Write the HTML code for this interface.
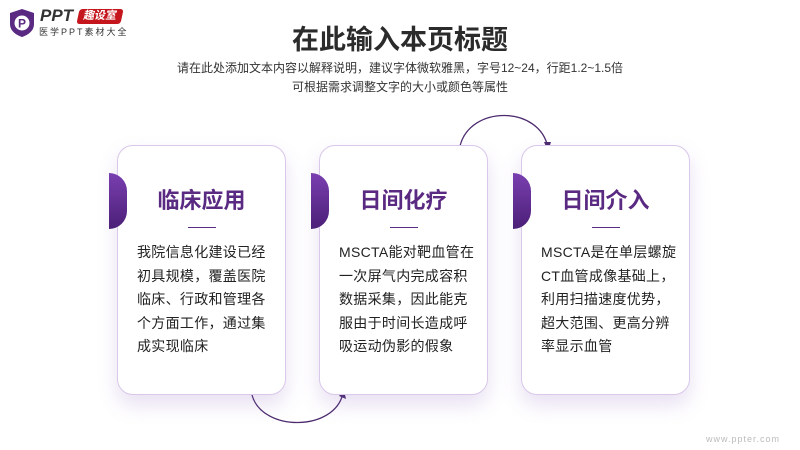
<!DOCTYPE html>
<html><head><meta charset="utf-8"><style>
body{margin:0;width:800px;height:450px;background:#fff;position:relative;overflow:hidden;font-family:"Liberation Sans","Noto Sans CJK SC",sans-serif;}
.abs{position:absolute}
.card{position:absolute;top:145px;width:169px;height:250px;background:#fff;border:1px solid #d9c8ea;border-radius:16px;box-shadow:0 10px 20px rgba(140,100,190,0.2);box-sizing:border-box}
.tab{position:absolute;left:-9px;top:27px;width:18px;height:56px;border-radius:0 28px 28px 0/0 28px 28px 0;background:linear-gradient(#7a3fb0,#4b1f78)}
.ct{position:absolute;top:37px;width:100%;text-align:center;font-size:22px;font-weight:bold;color:#5a2a82}
.ln{position:absolute;top:81px;left:70px;width:28px;height:1px;background:#5a2a82}
.bd{position:absolute;top:95px;left:19px;width:140px;font-size:14px;line-height:23.5px;color:#222;letter-spacing:0.3px}
</style></head><body>
<svg class="abs" style="left:8px;top:8px" width="28" height="30" viewBox="0 0 28 30"><path d="M14 1 L26 5 V16 C26 23 20 27 14 29 C8 27 2 23 2 16 V5 Z" fill="#5a2a82"/><circle cx="14" cy="15" r="7.5" fill="#fff"/><text x="14" y="19.5" font-size="12" font-weight="bold" text-anchor="middle" fill="#5a2a82" font-family="Liberation Sans">P</text></svg>
<div class="abs" style="left:40px;top:6px;font-size:17px;font-weight:bold;font-style:italic;color:#333">PPT</div>
<div class="abs" style="left:78px;top:9px;width:44px;height:15px;background:#c4161c;border-radius:3px;transform:skewX(-12deg);color:#fff;font-size:11px;line-height:15px;text-align:center;font-weight:bold">趣设室</div>
<div class="abs" style="left:39px;top:25px;font-size:9px;color:#333;letter-spacing:2px">医学PPT素材大全</div>
<div class="abs" style="left:0;top:18px;width:800px;text-align:center;font-size:27px;font-weight:bold;color:#2b2b2b">在此输入本页标题</div>
<div class="abs" style="left:0;top:59px;width:800px;text-align:center;font-size:12px;line-height:19px;color:#333">请在此处添加文本内容以解释说明，建议字体微软雅黑，字号12~24，行距1.2~1.5倍<br>可根据需求调整文字的大小或颜色等属性</div>
<svg class="abs" style="left:0;top:0" width="800" height="450">
<path d="M460 146 C470 105 540 105 548 148" fill="none" stroke="#4b2a6e" stroke-width="1.3"/>
<path d="M544 142 L548 151 L551 142 Z" fill="#4b2a6e"/>
<path d="M252 395 C262 432 335 432 343 393" fill="none" stroke="#4b2a6e" stroke-width="1.3"/>
<path d="M339 396 L344 390 L346 399 Z" fill="#4b2a6e"/>
</svg>
<div class="card" style="left:117px"><div class="tab"></div><div class="ct">临床应用</div><div class="ln"></div><div class="bd">我院信息化建设已经初具规模，覆盖医院临床、行政和管理各个方面工作，通过集成实现临床</div></div>
<div class="card" style="left:319px"><div class="tab"></div><div class="ct">日间化疗</div><div class="ln"></div><div class="bd">MSCTA能对靶血管在一次屏气内完成容积数据采集，因此能克服由于时间长造成呼吸运动伪影的假象</div></div>
<div class="card" style="left:521px"><div class="tab"></div><div class="ct">日间介入</div><div class="ln"></div><div class="bd">MSCTA是在单层螺旋CT血管成像基础上，利用扫描速度优势，超大范围、更高分辨率显示血管</div></div>
<div class="abs" style="left:706px;top:434px;font-size:9px;color:#bbb;letter-spacing:1px">www.ppter.com</div>
</body></html>
